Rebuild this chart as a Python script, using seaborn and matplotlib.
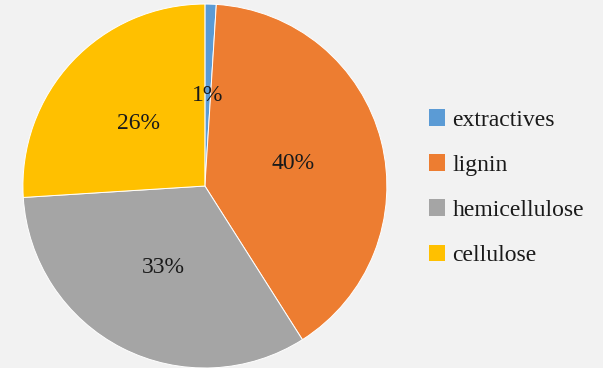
import matplotlib
matplotlib.use("Agg")
import matplotlib.pyplot as plt
import seaborn as sns
from matplotlib.patches import Patch

components = ["extractives", "lignin", "hemicellulose", "cellulose"]
shares = [1, 40, 33, 26]
colors = ["#5B9BD5", "#ED7D31", "#A5A5A5", "#FFC000"]

sns.set_theme(style="white")
plt.rcParams["font.family"] = ["Liberation Serif", "DejaVu Serif"]

bg = "#f2f2f2"
fig = plt.figure(figsize=(6.03, 3.68), dpi=100, facecolor=bg)
ax = fig.add_axes([0.038, 0.0, 0.6036, 0.989])
ax.set_facecolor(bg)

palette = sns.color_palette(colors)
wedges, texts, autotexts = ax.pie(
    shares,
    colors=palette,
    startangle=90,
    counterclock=False,
    autopct=lambda p: f"{p:.0f}%",
    pctdistance=0.5,
    wedgeprops=dict(edgecolor="white", linewidth=0.7),
    textprops=dict(fontsize=17, color="#1a1a1a"),
)
ax.set_aspect("equal")
ax.set_xlim(-1.0, 1.0)
ax.set_ylim(-1.0, 1.0)

handles = [Patch(facecolor=c, edgecolor="none") for c in palette]
fig.legend(
    handles, components,
    loc="center left", bbox_to_anchor=(0.676, 0.49),
    frameon=False, fontsize=17,
    handlelength=0.7, handleheight=0.7, handletextpad=0.3,
    labelspacing=1.0, labelcolor="#1a1a1a",
)

fig.savefig("out.png", dpi=100, facecolor=bg)
